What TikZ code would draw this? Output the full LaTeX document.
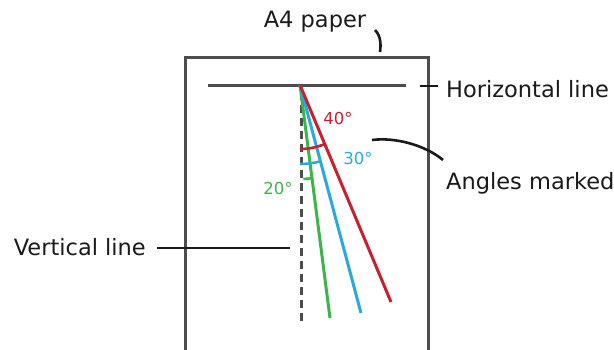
\documentclass[tikz,border=0pt]{standalone}
\usepackage{fontspec}
\setmainfont{DejaVu Sans}
\definecolor{papergray}{HTML}{4D4D4D}
\definecolor{inkblack}{HTML}{1A1A1A}
\definecolor{angred}{HTML}{C8202F}
\definecolor{angblue}{HTML}{2AA9E0}
\definecolor{anggreen}{HTML}{3CB44A}
\begin{document}
\begin{tikzpicture}[x=1pt,y=-1pt]
\tikzset{
  paperline/.style={draw=papergray, line width=3pt},
  dashline/.style={draw=papergray, line width=3pt, dash pattern=on 8pt off 5pt},
  ray/.style={line width=3pt},
  anglearc/.style={line width=2.6pt},
  callout/.style={draw=inkblack, line width=2.6pt},
  lbl/.style={font=\fontsize{22.5}{24}\selectfont, text=inkblack, inner sep=0pt},
  deg/.style={font=\fontsize{16.5}{18}\selectfont, inner sep=0pt}
}
\useasboundingbox (0,0) rectangle (614,349);
% paper
\draw[paperline] (185,352) -- (185,57) -- (428,57) -- (428,352);
% horizontal line
\coordinate (hl) at (208,85);
\coordinate (hr) at (406,85);
\coordinate (apex) at (300,85);
\draw[paperline] (hl) -- (hr);
% vertical dashed line
\coordinate (vtop) at (301,92);
\coordinate (vbot) at (301,322);
\draw[dashline] (vtop) -- (vbot);
% rays
\coordinate (gend) at (330,318);
\coordinate (bend) at (361,313);
\coordinate (rend) at (391,302);
\draw[ray, anggreen] (apex) -- (gend);
\draw[ray, angblue] (apex) -- (bend);
\draw[ray, angred] (apex) -- (rend);
% arcs
\draw[anglearc, angred] (apex) ++(90:64) arc[start angle=90, end angle=67.25, radius=64];
\draw[anglearc, angblue] (apex) ++(90:79) arc[start angle=90, end angle=75.0, radius=79];
\draw[anglearc, anggreen] (apex) ++(88:94) arc[start angle=88, end angle=82.7, radius=94];
% angle labels
\node[deg, text=angred] (l40) at (338,118) {40°};
\node[deg, text=angblue] (l30) at (358,158) {30°};
\node[deg, text=anggreen] (l20) at (278,188) {20°};
% labels
\node[lbl] (a4) at (315,22) {A4 paper};
\node[lbl, anchor=west] (hlab) at (446,89) {Horizontal line};
\node[lbl, anchor=west] (alab) at (446,183) {Angles marked};
\node[lbl, anchor=east] (vlab) at (146,247) {Vertical line};
% callouts
\coordinate (a4s) at (375,30);
\coordinate (a4e) at (380,52);
\draw[callout] (a4s) .. controls (381,36) and (381,45) .. (a4e);
\coordinate (hs) at (420,86);
\coordinate (he) at (438,86);
\draw[callout] (hs) -- (he);
\coordinate (as) at (372,140);
\coordinate (ae) at (443,160);
\draw[callout] (as) .. controls (395,137) and (425,145) .. (ae);
\coordinate (vs) at (157,248);
\coordinate (ve) at (290,248);
\draw[callout] (vs) -- (ve);
\end{tikzpicture}
\end{document}
